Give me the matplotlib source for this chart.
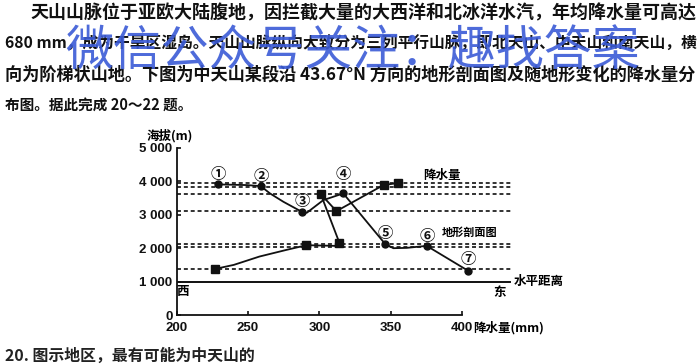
import matplotlib
matplotlib.use("Agg")
import matplotlib.pyplot as plt

plt.rcParams['font.family'] = ['Noto Sans CJK SC', 'DejaVu Sans']

W, H = 700, 364

# terrain profile, numbered sites ① - ⑦ (west -> east), x read on the bottom scale
site_x = [228.8, 258.9, 287.7, 316.8, 346.1, 375.3, 404.1]
site_elev = [3910, 3860, 3090, 3640, 2130, 2070, 1330]
site_names = ['①', '②', '③', '④', '⑤', '⑥', '⑦']
# full profile line (includes the small bends between sites)
profile_x = [228.8, 249, 258.9, 265.4, 274.8, 287.7, 291.2, 302.8, 316.8, 346.1, 351.9, 361.3, 375.3, 404.1]
profile_elev = [3910, 3890, 3860, 3640, 3390, 3090, 3060, 3440, 3640, 2130, 2000, 2010, 2070, 1330]

# precipitation (mm) at each site elevation
precip_mm = [355, 345, 312, 301, 314, 291, 227]
precip_elev = [3950, 3890, 3110, 3620, 2170, 2090, 1380]
precip_line_x = [355, 345, 312, 301, 314, 311, 291, 277, 258, 240, 227]
precip_line_elev = [3950, 3890, 3110, 3620, 2170, 2070, 2090, 1950, 1750, 1500, 1380]

levels = [3950, 3840, 3630, 3110, 2130, 2050, 1380]
yticks = [0, 1000, 2000, 3000, 4000, 5000]
ytick_labels = ['0', '1 000', '2 000', '3 000', '4 000', '5 000']
xticks = [200, 250, 300, 350, 400]

fig = plt.figure(figsize=(W / 100, H / 100), dpi=100)
fig.patch.set_facecolor('white')


def px(x, y):
    return x / W, 1 - y / H


def fit_line(txt, x0, x1, y, fs, **kw):
    t = fig.text(*px(x0, y), txt, fontsize=fs, ha='left', va='center', **kw)
    r = fig.canvas.get_renderer()
    w = t.get_window_extent(r).width
    t.set_fontsize(fs * (x1 - x0) / w)
    return t


# question text
lines = [
    ("天山山脉位于亚欧大陆腹地，因拦截大量的大西洋和北冰洋水汽，年均降水量可高达", 30, 695, 13),
    ("680 mm，成为干旱区湿岛。天山山脉纵向大致分为三列平行山脉，即北天山、中天山和南天山，横", 5, 695, 44),
    ("向为阶梯状山地。下图为中天山某段沿 43.67°N 方向的地形剖面图及随地形变化的降水量分", 5, 695, 75),
    ("布图。据此完成 20～22 题。", 5, 192, 105),
]
for txt, x0, x1, y in lines:
    fit_line(txt, x0, x1, y, 12, fontweight='bold', color='#111111')

fit_line("20. 图示地区，最有可能为中天山的", 5, 255, 356, 11, fontweight='bold', color='#222222')

# watermark
fit_line("微信公众号关注：趣找答案", 65, 640, 52, 34, color='#3b5bd6', alpha=0.9,
         fontweight='medium')

# chart
ax = fig.add_axes([176.7 / W, 49 / H, (519 - 176.7) / W, (315 - 148) / H])
ax.set_xlim(200, 440)
ax.set_ylim(0, 5000)
ax.patch.set_alpha(0)

for lv in levels:
    ax.plot([200, 435], [lv, lv], color='#222222', lw=1.3, linestyle=(0, (2.2, 1.6)))
ax.plot([200, 434], [1000, 1000], color='#111111', lw=1.4)

ax.plot(profile_x, profile_elev, color='#111111', lw=1.3)
ax.plot(site_x, site_elev, 'o', color='#111111', ms=5, clip_on=False)
ax.plot(precip_line_x, precip_line_elev, color='#111111', lw=1.3)
ax.plot(precip_mm, precip_elev, 's', color='#111111', ms=6, clip_on=False)

offsets = [10, 10, 11, 19, 11, 10, 12]
for name, x, y, off in zip(site_names, site_x, site_elev, offsets):
    ax.annotate(name, (x, y), xytext=(0, off), textcoords='offset pixels',
                ha='center', va='center', fontsize=11, fontweight='bold', color='#111111')

ax.text(372.7, 4190, '降水量', fontsize=9, fontweight='bold', ha='left', va='center')
ax.text(405.3, 2480, '地形剖面图', fontsize=8, fontweight='bold', ha='center', va='center')
ax.text(436, 1000, '水平距离', fontsize=9, fontweight='bold', ha='left', va='center')
ax.text(426.7, 660, '东', fontsize=9, fontweight='bold', ha='center', va='center')
ax.text(204.4, 690, '西', fontsize=9, fontweight='bold', ha='center', va='center')

for s in ['top', 'right']:
    ax.spines[s].set_visible(False)
ax.spines['left'].set_bounds(0, 5000)
ax.spines['bottom'].set_bounds(200, 400)
for s in ['left', 'bottom']:
    ax.spines[s].set_linewidth(1.3)
    ax.spines[s].set_color('#111111')

ax.set_yticks(yticks)
ax.set_yticklabels(ytick_labels)
ax.set_xticks(xticks)
ax.set_xticklabels([str(v) for v in xticks])
ax.tick_params(direction='in', length=3, width=1.2, colors='#111111')
ax.tick_params(axis='y', pad=3)
ax.tick_params(axis='x', pad=5)
for lab in ax.get_xticklabels() + ax.get_yticklabels():
    lab.set_family(['Liberation Sans Narrow', 'Liberation Sans', 'DejaVu Sans'])
    lab.set_fontsize(9.5)
    lab.set_fontweight('bold')
ax.get_yticklabels()[0].set_verticalalignment('center_baseline')

fig.text(*px(147, 136), '海拔(m)', fontsize=9, fontweight='bold', ha='left', va='center')
fig.text(*px(473, 328), '降水量(mm)', fontsize=9, fontweight='bold', ha='left', va='center')

fig.savefig('out.png', dpi=100)
